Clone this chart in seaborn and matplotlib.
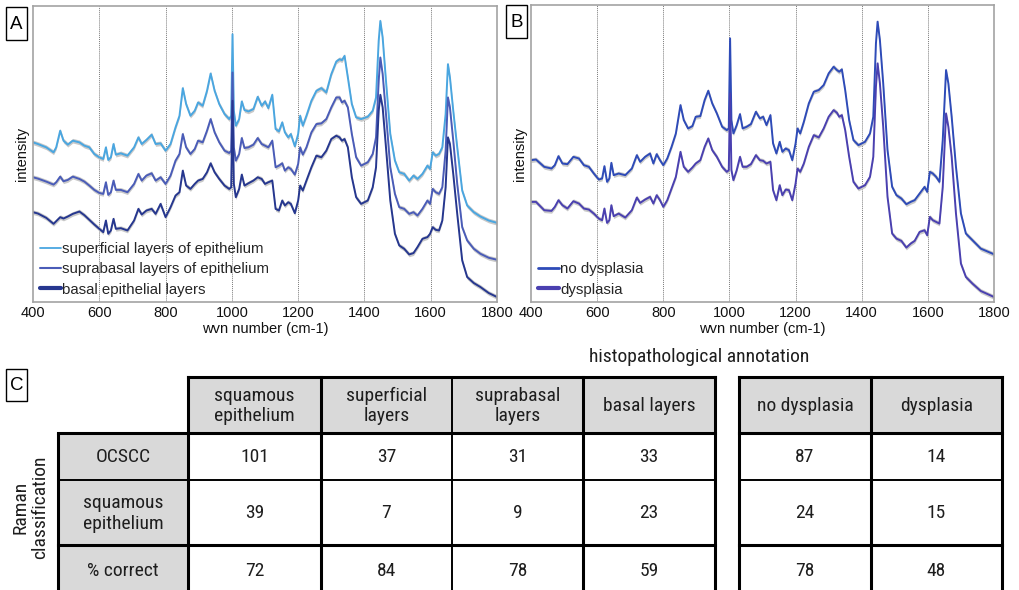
import matplotlib
matplotlib.use("Agg")
import matplotlib.pyplot as plt
from matplotlib import font_manager
from matplotlib.lines import Line2D
from matplotlib.patches import Rectangle
import pandas as pd
import seaborn as sns

# ---------------- spectra, panel A: epithelial layers ----------------
wn_layers = [400, 415, 440, 462, 470, 482, 492, 505, 520, 540, 555, 570, 585, 600, 612, 620, 627, 635, 643, 650,
             665, 685, 705, 718, 728, 742, 758, 770, 785, 800, 815, 830, 842, 852, 862, 875, 888, 898, 912, 925,
             936, 948, 962, 978, 992, 998, 1002, 1006, 1012, 1022, 1030, 1038, 1050, 1065, 1078, 1090, 1100, 1110,
             1122, 1132, 1142, 1152, 1160, 1170, 1178, 1190, 1200, 1206, 1214, 1225, 1240, 1255, 1270, 1285, 1300,
             1315, 1325, 1332, 1340, 1350, 1362, 1375, 1390, 1410, 1425, 1435, 1443, 1448, 1455, 1465, 1478, 1492,
             1505, 1520, 1535, 1548, 1560, 1575, 1590, 1598, 1606, 1615, 1625, 1635, 1645, 1652, 1658, 1668, 1680,
             1695, 1710, 1730, 1750, 1775, 1800]
superficial = [475, 470, 460, 445, 460, 510, 480, 468, 480, 475, 465, 460, 440, 430, 425, 460, 422, 430, 470, 438,
               442, 435, 460, 490, 470, 482, 498, 470, 472, 450, 470, 520, 555, 638, 590, 555, 570, 595, 585, 630,
               682, 630, 590, 560, 545, 555, 800, 570, 525, 545, 598, 572, 568, 575, 612, 585, 598, 578, 618, 515,
               508, 535, 505, 490, 500, 463, 500, 555, 525, 555, 600, 630, 638, 625, 680, 718, 725, 722, 735, 670,
               590, 550, 545, 552, 570, 610, 780, 840, 790, 660, 500, 420, 385, 380, 360, 375, 365, 380, 405, 395,
               445, 435, 440, 460, 560, 710, 670, 570, 460, 330, 285, 265, 252, 240, 233]
suprabasal = [370, 366, 357, 348, 355, 372, 358, 362, 372, 365, 357, 345, 332, 323, 320, 355, 317, 325, 360, 332,
              332, 325, 350, 380, 360, 375, 382, 360, 370, 350, 375, 420, 440, 500, 460, 440, 455, 480, 475, 510,
              545, 505, 475, 450, 443, 450, 685, 460, 420, 440, 488, 458, 460, 468, 488, 470, 465, 460, 480, 400,
              405, 412, 390, 400, 395, 378, 410, 460, 438, 460, 505, 530, 532, 545, 580, 610, 610, 595, 600, 580,
              500, 430, 405, 415, 440, 490, 660, 730, 680, 560, 400, 320, 280, 275, 260, 265, 255, 275, 300, 290,
              335, 325, 320, 340, 450, 610, 580, 480, 350, 220, 180, 155, 140, 128, 122]
basal = [265, 261, 248, 230, 238, 250, 246, 252, 260, 267, 256, 242, 228, 215, 205, 240, 200, 210, 245, 215,
         217, 210, 240, 275, 258, 270, 275, 260, 290, 250, 280, 315, 325, 390, 345, 335, 350, 360, 365, 385,
         412, 385, 365, 345, 335, 340, 600, 350, 310, 335, 378, 345, 352, 360, 370, 365, 350, 355, 360, 275,
         270, 300, 285, 295, 290, 262, 300, 345, 330, 360, 400, 435, 430, 450, 485, 495, 490, 480, 485, 460,
         370, 310, 290, 300, 340, 400, 570, 618, 580, 460, 300, 200, 165, 155, 138, 142, 160, 185, 190, 200,
         220, 212, 210, 240, 340, 490, 470, 380, 260, 120, 70, 52, 40, 22, 10]

# ---------------- spectra, panel B: dysplasia ----------------
wn_dysplasia = [400, 415, 440, 462, 472, 483, 495, 510, 528, 545, 560, 575, 590, 605, 615, 622, 630, 637, 643, 650,
                665, 685, 705, 720, 730, 745, 760, 770, 780, 790, 800, 812, 825, 838, 852, 862, 875, 888, 898, 912,
                925, 936, 948, 962, 978, 992, 998, 1002, 1006, 1012, 1022, 1032, 1040, 1052, 1065, 1080, 1092, 1102,
                1112, 1124, 1132, 1142, 1152, 1160, 1170, 1180, 1190, 1200, 1206, 1214, 1225, 1240, 1255, 1270, 1285,
                1300, 1315, 1325, 1332, 1340, 1350, 1362, 1375, 1390, 1410, 1425, 1435, 1443, 1448, 1455, 1465, 1478,
                1492, 1505, 1520, 1535, 1548, 1560, 1575, 1590, 1598, 1606, 1615, 1625, 1635, 1645, 1655, 1662, 1672,
                1685, 1700, 1715, 1735, 1760, 1800]
no_dysplasia = [420, 422, 400, 395, 405, 432, 410, 408, 430, 425, 405, 400, 380, 362, 365, 402, 355, 365, 412, 375,
                380, 375, 395, 435, 415, 430, 440, 410, 438, 420, 405, 425, 460, 500, 585, 540, 515, 522, 550, 552,
                600, 628, 590, 560, 520, 510, 515, 785, 540, 500, 525, 558, 515, 520, 528, 565, 545, 550, 525, 555,
                470, 440, 475, 445, 455, 450, 420, 470, 515, 500, 535, 590, 625, 630, 645, 680, 700, 690, 685, 692,
                630, 540, 480, 465, 475, 500, 550, 770, 835, 780, 650, 450, 340, 315, 305, 288, 295, 300, 320, 340,
                325, 385, 380, 370, 355, 480, 690, 650, 550, 400, 260, 200, 180, 155, 138]
dysplasia = [295, 295, 270, 268, 280, 300, 285, 275, 297, 290, 275, 272, 260, 245, 240, 275, 232, 240, 285, 252,
             260, 248, 270, 308, 292, 302, 310, 290, 315, 300, 280, 300, 335, 370, 445, 400, 385, 398, 410, 420,
             460, 485, 450, 430, 400, 385, 390, 620, 390, 360, 390, 430, 400, 400, 408, 435, 420, 418, 410, 415,
             330, 300, 345, 315, 332, 330, 300, 350, 395, 385, 410, 460, 495, 488, 515, 550, 570, 562, 550, 555,
             510, 430, 355, 335, 345, 370, 430, 640, 710, 650, 520, 310, 200, 185, 178, 158, 170, 178, 205, 210,
             195, 250, 240, 235, 230, 340, 560, 520, 430, 260, 110, 70, 50, 28, 10]

SD_BAND = 7  # half-width of the grey spread band around each mean spectrum

layer_labels = ["superficial layers of epithelium", "suprabasal layers of epithelium", "basal epithelial layers"]
layer_colors = ["#4aa6e0", "#4a5cb8", "#26378f"]
layer_legend_lw = [1.3, 1.5, 3.0]
dys_labels = ["no dysplasia", "dysplasia"]
dys_colors = ["#2e4bb8", "#4a40b0"]
dys_legend_lw = [2.0, 3.0]

# ---------------- table C ----------------
col_headers_layers = ["squamous\nepithelium", "superficial\nlayers", "suprabasal\nlayers", "basal layers"]
col_headers_dys = ["no dysplasia", "dysplasia"]
row_headers = ["OCSCC", "squamous\nepithelium", "% correct"]
counts_layers = [[101, 37, 31, 33],
                 [39, 7, 9, 23],
                 [72, 84, 78, 59]]
counts_dys = [[87, 14],
              [24, 15],
              [78, 48]]

# ---------------- fonts ----------------
sns.set_theme(style="white")
names = {f.name for f in font_manager.fontManager.ttflist}
if "Liberation Sans Narrow" in names:
    plot_font, tick_fs, lab_fs, leg_fs = "Liberation Sans Narrow", 12, 12, 12.5
else:
    plot_font, tick_fs, lab_fs, leg_fs = "Liberation Sans", 10.5, 10.5, 10.8
if "Roboto Condensed" in names:
    tab_font, tab_fs = "Roboto Condensed", 14
else:
    tab_font, tab_fs = "Roboto", 12.5
plt.rcParams["font.family"] = [plot_font, "DejaVu Sans"]

W, H = 1020, 590
fig = plt.figure(figsize=(W / 100, H / 100), dpi=100)

# full-figure canvas in pixel units for the table and panel letters
canvas = fig.add_axes([0, 0, 1, 1], zorder=0)
canvas.set_xlim(0, W)
canvas.set_ylim(H, 0)
canvas.axis("off")


def px_axes(left, top, right, bottom):
    return fig.add_axes([left / W, 1 - bottom / H, (right - left) / W, (bottom - top) / H], zorder=2)


def style_spectrum_axes(ax):
    ax.set_xlim(400, 1800)
    ax.set_ylim(-5, 885)
    ax.set_xticks(range(400, 1801, 200))
    ax.set_yticks([])
    ax.tick_params(axis="x", length=0, pad=3, labelsize=tick_fs, colors="#111111")
    for s in ax.spines.values():
        s.set_color("#a3a3a3")
        s.set_linewidth(1.2)
    for x in range(600, 1601, 200):
        ax.axvline(x, color="#7a7a7a", ls=(0, (1, 1)), lw=0.7, zorder=0)
    ax.set_xlabel("wvn number (cm-1)", fontsize=lab_fs, labelpad=1, color="#111111")
    ax.set_ylabel("intensity", fontsize=lab_fs, labelpad=3, color="#111111")
    ax.set_facecolor("white")


def draw_spectra(ax, wn, series, labels, colors):
    frames = [pd.DataFrame({"wn": wn, "intensity": vals, "group": lab}) for vals, lab in zip(series, labels)]
    df = pd.concat(frames, ignore_index=True)
    for lab in labels:
        sub = df[df["group"] == lab]
        ax.fill_between(sub["wn"], sub["intensity"] - SD_BAND, sub["intensity"] + SD_BAND,
                        color="#c9c9c9", lw=0, zorder=1)
    sns.lineplot(data=df, x="wn", y="intensity", hue="group", hue_order=labels,
                 palette=dict(zip(labels, colors)), estimator=None, linewidth=1.4,
                 legend=False, ax=ax, zorder=2)


def add_legend(ax, colors, widths, labels):
    handles = [Line2D([], [], color=c, lw=w) for c, w in zip(colors, widths)]
    ax.legend(handles, labels, loc="lower left", bbox_to_anchor=(0.008, 0.008), frameon=False,
              fontsize=leg_fs, handlelength=1.4, handletextpad=0.1, labelspacing=0.42,
              borderpad=0.2, borderaxespad=0.0)


axA = px_axes(33, 6, 497, 302)
draw_spectra(axA, wn_layers, [superficial, suprabasal, basal], layer_labels, layer_colors)
style_spectrum_axes(axA)
add_legend(axA, layer_colors, layer_legend_lw, layer_labels)

axB = px_axes(531, 5, 994, 302)
draw_spectra(axB, wn_dysplasia, [no_dysplasia, dysplasia], dys_labels, dys_colors)
style_spectrum_axes(axB)
add_legend(axB, dys_colors, dys_legend_lw, dys_labels)

# panel letters
for letter, (x0, y0, x1, y1) in {"A": (6, 7, 27, 40), "B": (506, 5, 527, 38), "C": (6, 369, 27, 401)}.items():
    canvas.add_patch(Rectangle((x0, y0), x1 - x0, y1 - y0, fill=False, ec="black", lw=1.0))
    canvas.text((x0 + x1) / 2, (y0 + y1) / 2 + 1, letter, ha="center", va="center",
                fontsize=15 if plot_font.endswith("Narrow") else 13.5, color="black")

# ---------------- table drawing ----------------
GREY = "#d9d9d9"
TXT = "#1e1e1e"
row_edges = [377, 433, 480, 545, 594]
cols_layers = [58, 188, 321, 452, 583, 715]
cols_dys = [739, 871, 1002]
LW_THICK, LW_THIN = 2.2, 1.4


def cell_text(x0, x1, y0, y1, s):
    canvas.text((x0 + x1) / 2, (y0 + y1) / 2 + 1, s, ha="center", va="center", fontsize=tab_fs,
                family=[tab_font, "DejaVu Sans"], color=TXT, linespacing=1.15)


def draw_block(col_edges, headers, body, with_row_headers):
    first = 1 if with_row_headers else 0
    # header row
    for j, h in enumerate(headers):
        x0, x1 = col_edges[first + j], col_edges[first + j + 1]
        canvas.add_patch(Rectangle((x0, row_edges[0]), x1 - x0, row_edges[1] - row_edges[0], fc=GREY, ec="none"))
        cell_text(x0, x1, row_edges[0], row_edges[1], h)
    # body rows
    for i, row in enumerate(body):
        y0, y1 = row_edges[i + 1], row_edges[i + 2]
        if with_row_headers:
            canvas.add_patch(Rectangle((col_edges[0], y0), col_edges[1] - col_edges[0], y1 - y0, fc=GREY, ec="none"))
            cell_text(col_edges[0], col_edges[1], y0, y1, row_headers[i])
        for j, v in enumerate(row):
            x0, x1 = col_edges[first + j], col_edges[first + j + 1]
            cell_text(x0, x1, y0, y1, str(v))
    # grid lines
    xl, xr = col_edges[first], col_edges[-1]
    canvas.plot([xl, xr], [row_edges[0], row_edges[0]], color="black", lw=LW_THICK, solid_capstyle="projecting")
    x_start = col_edges[0]
    for k, y in enumerate(row_edges[1:-1]):
        canvas.plot([x_start, xr], [y, y], color="black", lw=LW_THIN if k == 1 else LW_THICK,
                    solid_capstyle="projecting")
    if with_row_headers:
        canvas.plot([col_edges[0]] * 2, [row_edges[1], row_edges[-1]], color="black", lw=LW_THICK)
    for k, x in enumerate(col_edges[first:]):
        canvas.plot([x, x], [row_edges[0], row_edges[-1]], color="black",
                    lw=LW_THIN if (with_row_headers and k == 2) else LW_THICK, solid_capstyle="projecting")


draw_block(cols_layers, col_headers_layers, counts_layers, True)
draw_block(cols_dys, col_headers_dys, counts_dys, False)

canvas.text(699, 357, "histopathological annotation", ha="center", va="center", fontsize=tab_fs,
            family=[tab_font, "DejaVu Sans"], color=TXT)
canvas.text(30, 507, "Raman\nclassification", ha="center", va="center", rotation=90, fontsize=tab_fs,
            family=[tab_font, "DejaVu Sans"], color=TXT, linespacing=1.1)

fig.savefig("out.png", dpi=100, facecolor="white")
